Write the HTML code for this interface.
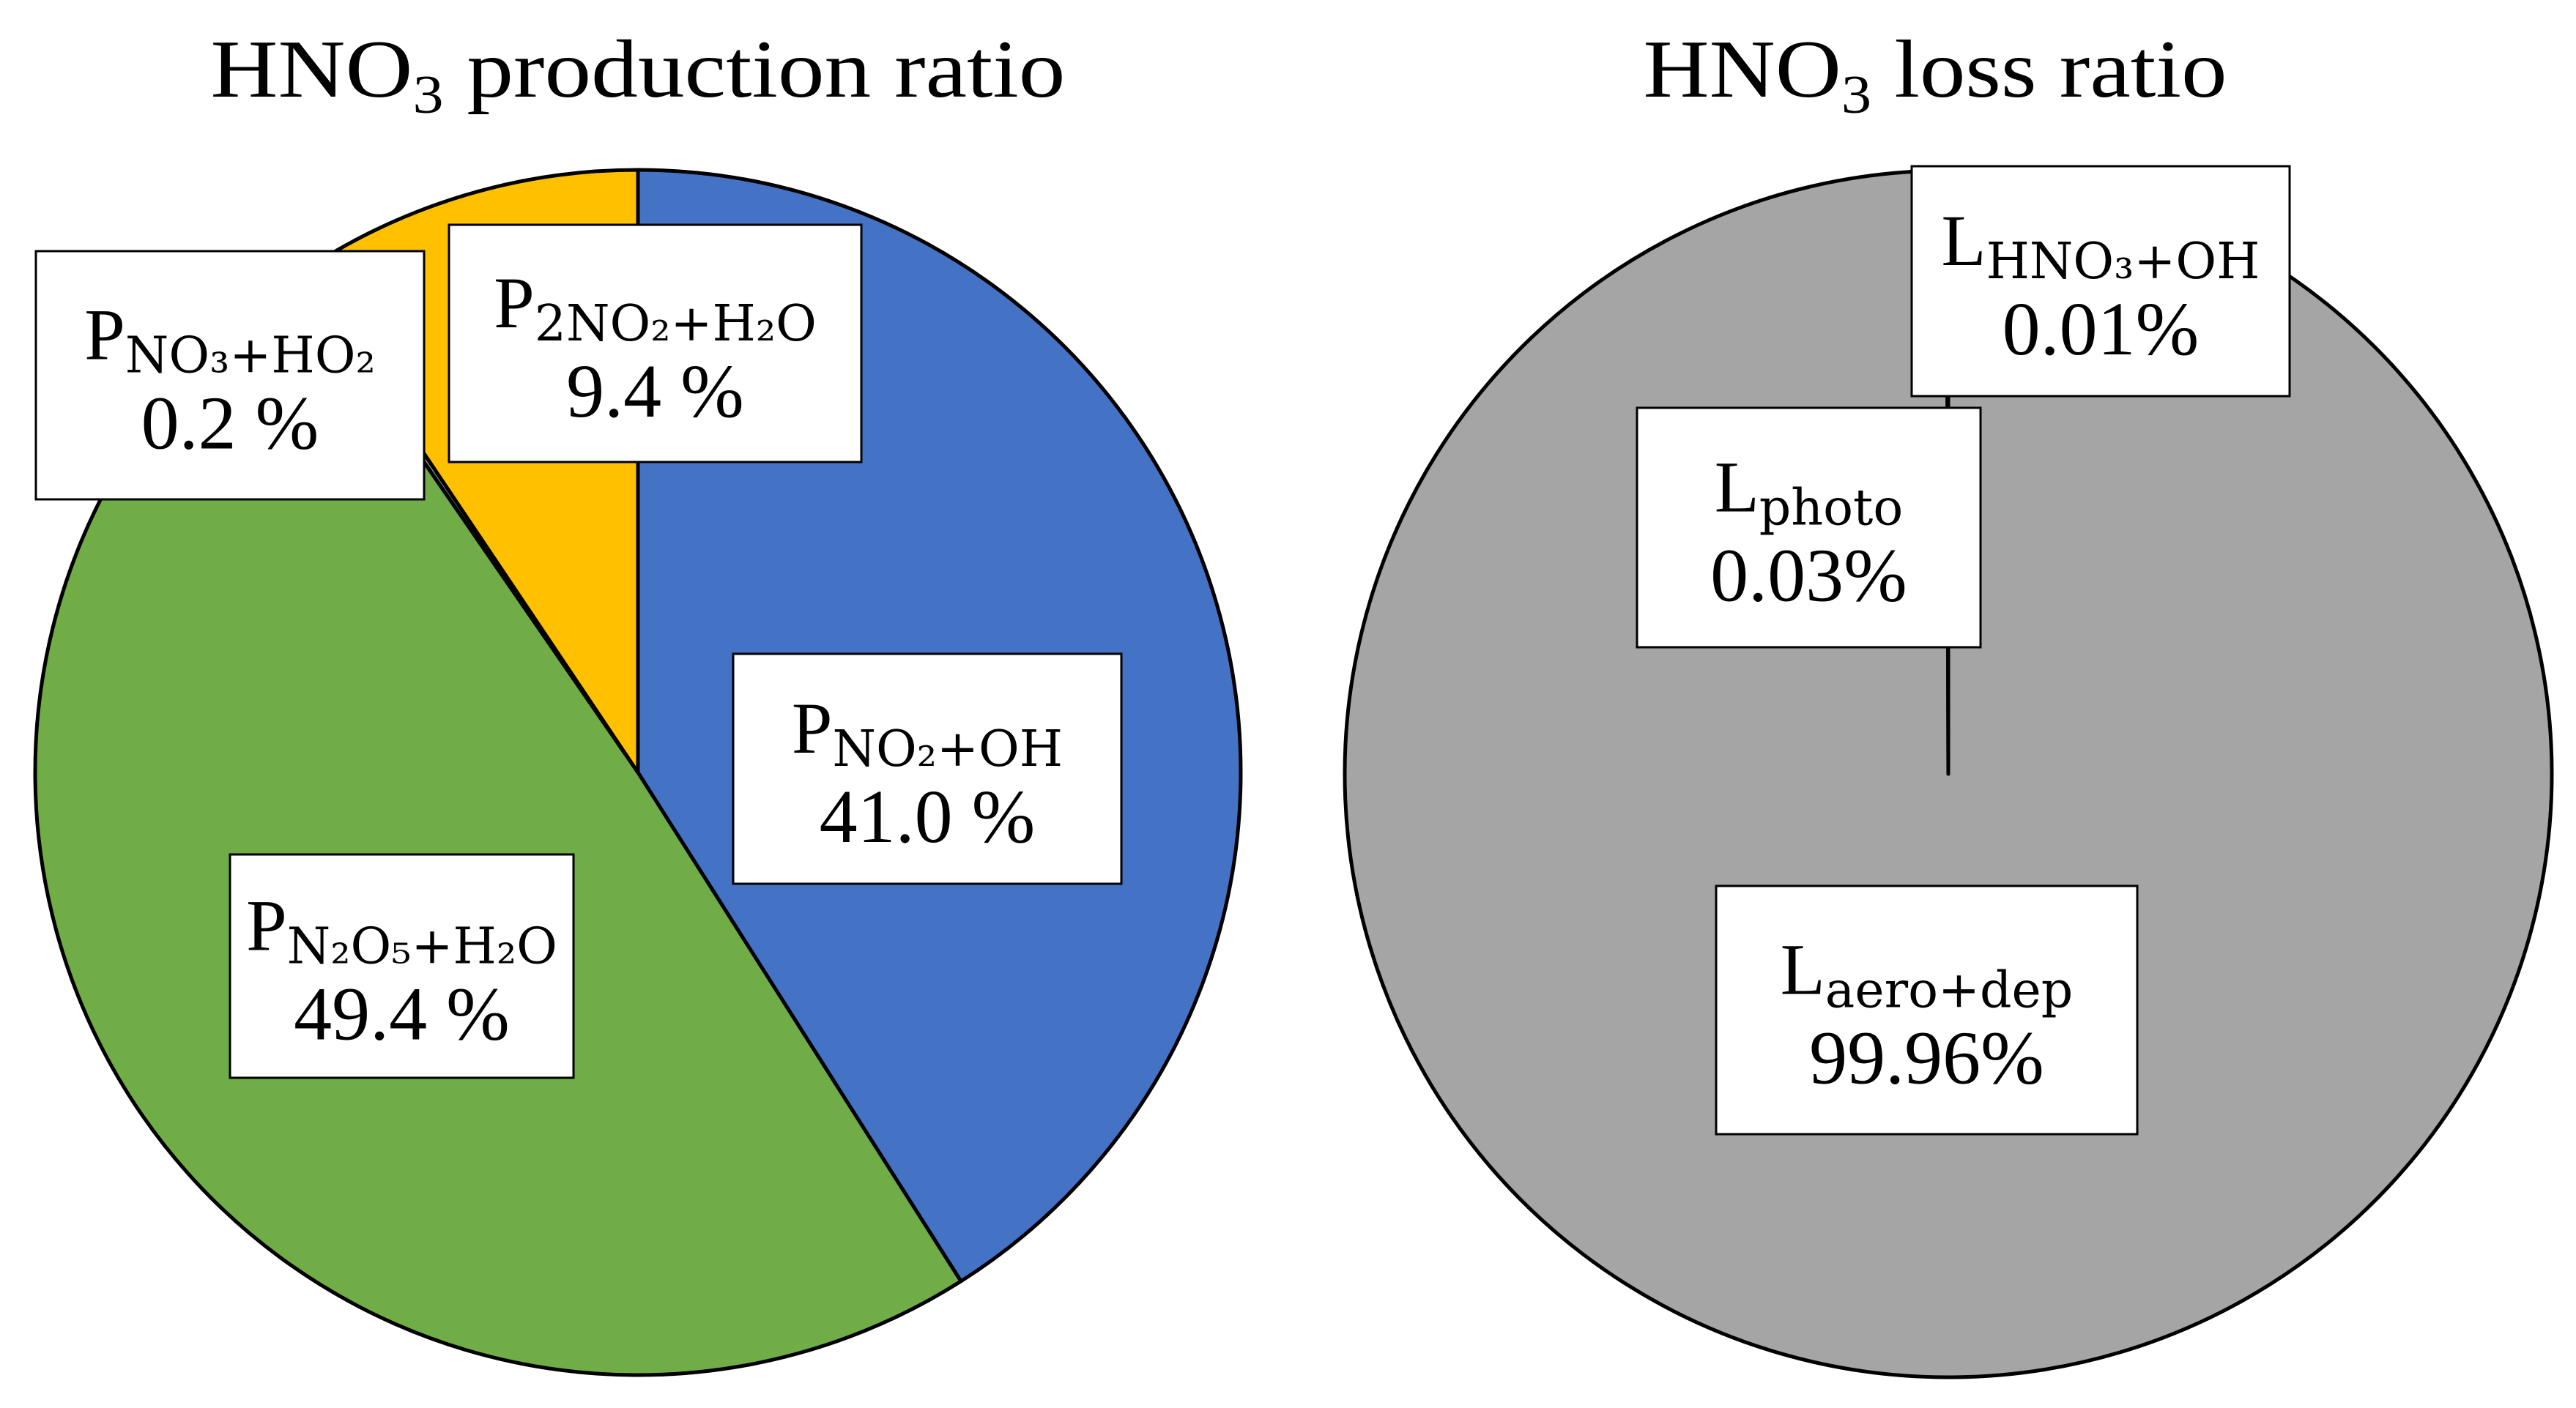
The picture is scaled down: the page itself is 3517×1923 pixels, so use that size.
<!DOCTYPE html>
<html><head><meta charset="utf-8"><style>
html,body{margin:0;padding:0;background:#fff;}
svg{display:block;font-family:"Liberation Serif",serif;}
</style></head><body>
<svg id="chart" width="3517" height="1923" viewBox="0 0 3517 1923" xmlns="http://www.w3.org/2000/svg">
<text x="871" y="132" font-size="112" text-anchor="middle" textLength="1167" lengthAdjust="spacingAndGlyphs">HNO<tspan font-size="74" dy="22">3</tspan><tspan dy="-22"> production ratio</tspan></text>
<text x="2642" y="132" font-size="112" text-anchor="middle" textLength="797" lengthAdjust="spacingAndGlyphs">HNO<tspan font-size="74" dy="22">3</tspan><tspan dy="-22"> loss ratio</tspan></text>
<g id="pie1"></g>
<g id="pie2"></g>
<g id="labels"></g>
</svg>
<script>
const prodCategories = ["NO2+OH","N2O5+H2O","NO3+HO2","2NO2+H2O"];
const prodValues = [41.0, 49.4, 0.2, 9.4];
const prodColors = ["#4472c4","#70ad47","#8aa58a","#ffc000"];
const lossCategories = ["aero+dep","photo","HNO3+OH"];
const lossValues = [99.96, 0.03, 0.01];
const lossColors = ["#a5a5a5","#a5a5a5","#a5a5a5"];
const NS="http://www.w3.org/2000/svg";
function pt(cx,cy,r,a){return [cx+r*Math.sin(a), cy-r*Math.cos(a)];}
function drawPie(g,cx,cy,r,vals,cols,names,prefix){
  const tot=vals.reduce((a,b)=>a+b,0);
  let a0=0;
  vals.forEach((v,i)=>{
    const a1=a0+v/tot*2*Math.PI;
    const p0=pt(cx,cy,r,a0),p1=pt(cx,cy,r,a1);
    const large=(a1-a0)>Math.PI?1:0;
    const p=document.createElementNS(NS,"path");
    p.setAttribute("d",`M${cx},${cy} L${p0[0]},${p0[1]} A${r},${r} 0 ${large} 1 ${p1[0]},${p1[1]} Z`);
    p.setAttribute("fill",cols[i]);p.setAttribute("stroke","#000");p.setAttribute("stroke-width","5");p.setAttribute("stroke-linejoin","round");
    
    
    g.appendChild(p);
    a0=a1;
  });
}
drawPie(document.getElementById("pie1"),871,1055,823,prodValues,prodColors,prodCategories,"production");
drawPie(document.getElementById("pie2"),2660,1057,824,lossValues,lossColors,lossCategories,"loss");
const boxes=[
 [49,343,530,339,"P","NO₃+HO₂","0.2 %","label-no3-ho2"],
 [613,307,563,324,"P","2NO₂+H₂O","9.4 %","label-2no2-h2o"],
 [1001,893,530,314,"P","NO₂+OH","41.0 %","label-no2-oh"],
 [314,1167,469,305,"P","N₂O₅+H₂O","49.4 %","label-n2o5-h2o"],
 [2610,227,516,314,"L","HNO₃+OH","0.01%","label-hno3-oh"],
 [2235,557,469,327,"L","photo","0.03%","label-photo"],
 [2343,1210,575,339,"L","aero+dep","99.96%","label-aero-dep"]
];
const lg=document.getElementById("labels");
boxes.forEach(b=>{
  const g=document.createElementNS(NS,"g");
  
  
  const r=document.createElementNS(NS,"rect");
  r.setAttribute("x",b[0]);r.setAttribute("y",b[1]);r.setAttribute("width",b[2]);r.setAttribute("height",b[3]);
  r.setAttribute("fill","#fff");r.setAttribute("stroke","#000");r.setAttribute("stroke-width","3");
  g.appendChild(r);
  const cx=b[0]+b[2]/2, cy=b[1]+b[3]/2;
  const t1=document.createElementNS(NS,"text");
  t1.setAttribute("x",cx);t1.setAttribute("y",cy-22);t1.setAttribute("text-anchor","middle");t1.setAttribute("font-size","100");
  t1.innerHTML=`${b[4]}<tspan font-size="68" dy="18" font-family="DejaVu Serif, serif">${b[5]}</tspan>`;
  g.appendChild(t1);
  const t2=document.createElementNS(NS,"text");
  t2.setAttribute("x",cx);t2.setAttribute("y",cy+100);t2.setAttribute("text-anchor","middle");t2.setAttribute("font-size","104");
  t2.textContent=b[6];
  g.appendChild(t2);
  lg.appendChild(g);
});
</script>
</body></html>
